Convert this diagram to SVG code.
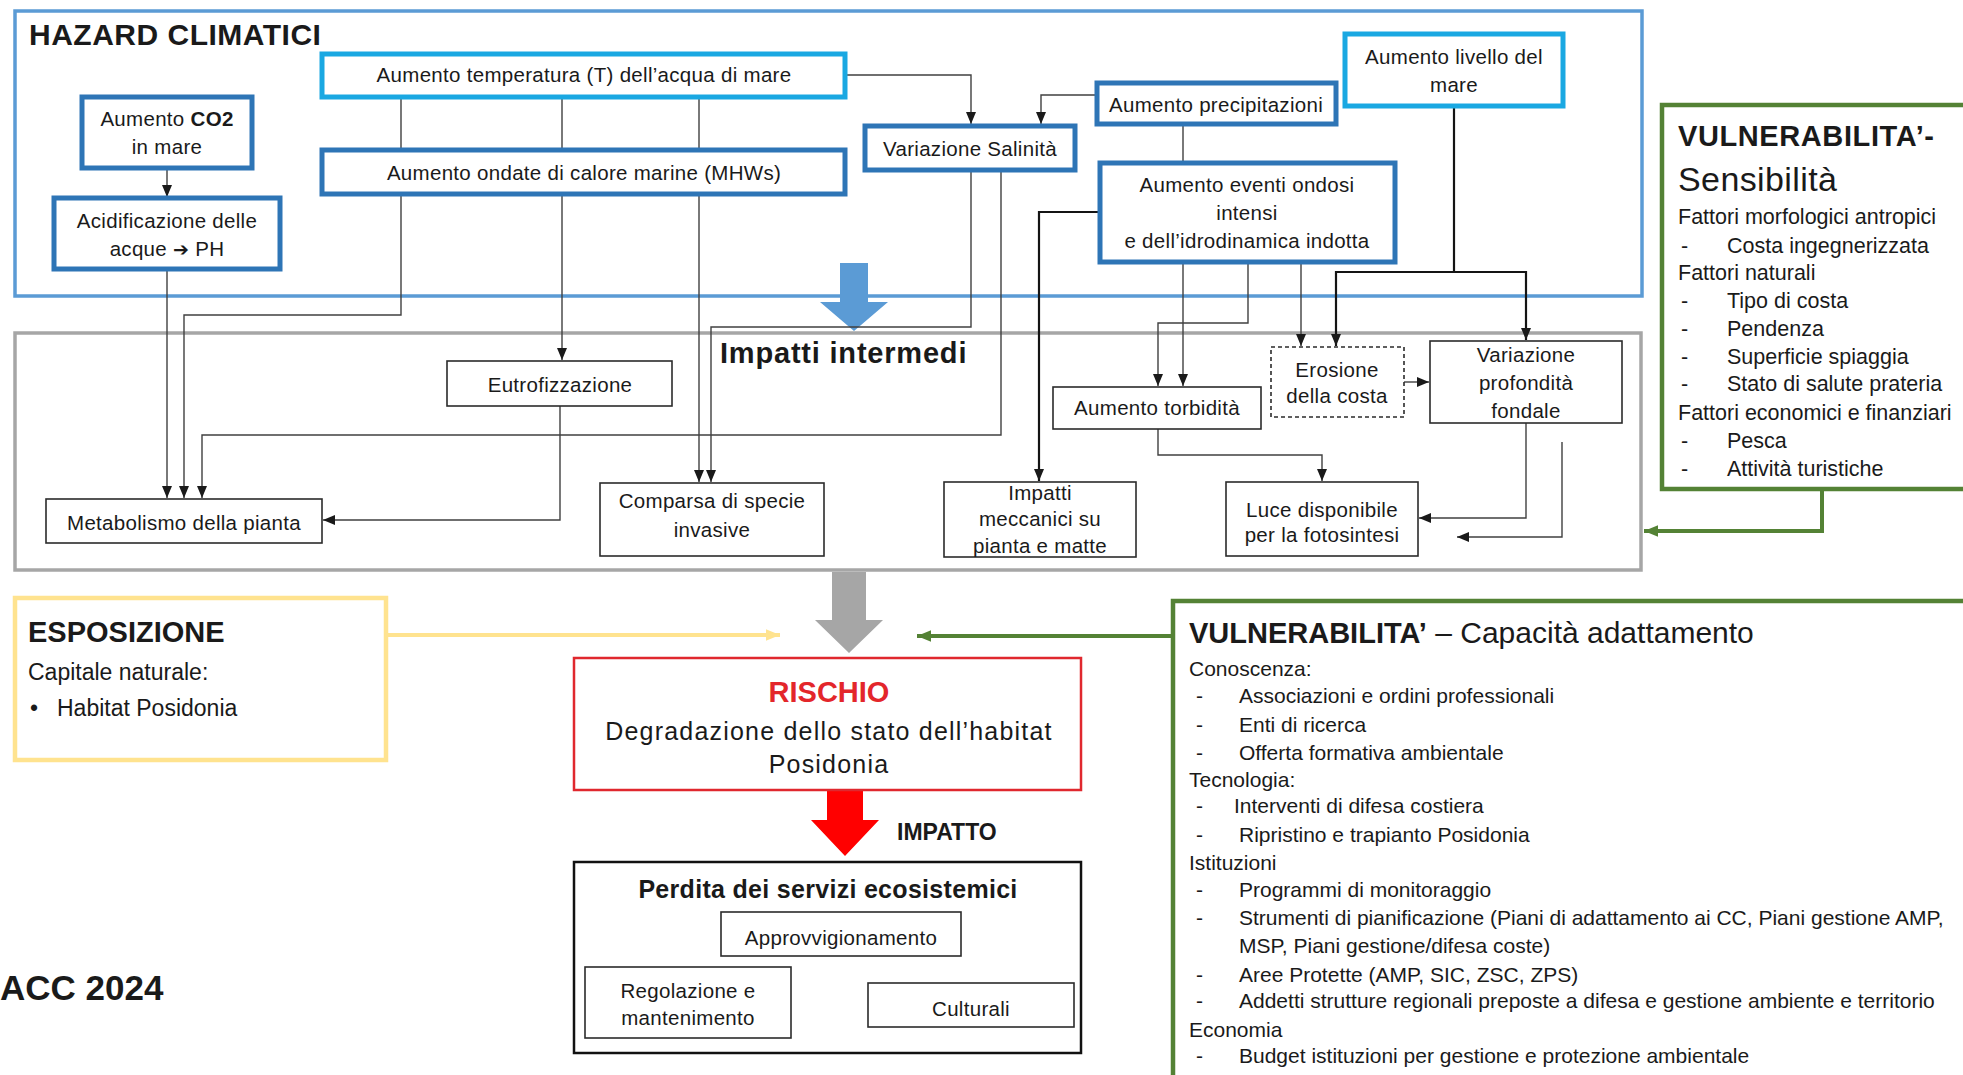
<svg xmlns="http://www.w3.org/2000/svg" width="1963" height="1075" viewBox="0 0 1963 1075">
<style>
text { font-family: "Liberation Sans", Arial, sans-serif; fill: #1a1a1a; }
.l { font-size: 20.5px; letter-spacing: .3px; text-anchor: middle; }
.b { font-weight: bold; }
.nb { fill: #fff; stroke: #2b2b2b; stroke-width: 1.6; }
.hd { fill: #fff; stroke: #2E75B6; stroke-width: 5; }
.hc { fill: #fff; stroke: #1AA8E2; stroke-width: 5; }
.w { fill: none; stroke: #404040; stroke-width: 1.4; marker-end: url(#ah); }
.wb { stroke: #141414; stroke-width: 2.2; }
.lst { font-size: 21px; }
.sl { font-size: 21.5px; }
</style>
<defs>
  <marker id="ah" viewBox="0 0 12 10" markerWidth="12" markerHeight="10" refX="12" refY="5" orient="auto" markerUnits="userSpaceOnUse">
    <path d="M0,0 L12,5 L0,10 z" fill="#1a1a1a"/>
  </marker>
  <marker id="ahg" viewBox="0 0 12 10" markerWidth="14" markerHeight="12" refX="12" refY="5" orient="auto" markerUnits="userSpaceOnUse">
    <path d="M0,0 L12,5 L0,10 z" fill="#548235"/>
  </marker>
  <marker id="ahy" viewBox="0 0 12 10" markerWidth="14" markerHeight="12" refX="12" refY="5" orient="auto" markerUnits="userSpaceOnUse">
    <path d="M0,0 L12,5 L0,10 z" fill="#FFE38F"/>
  </marker>
</defs>

<rect x="0" y="0" width="1963" height="1075" fill="#fff"/>

<!-- section frames -->
<g id="hazard-frame">
  <rect x="15" y="11" width="1627" height="285" fill="none" stroke="#5B9BD5" stroke-width="3.5"/>
  <text x="29" y="45" class="b" font-size="30" letter-spacing="0.5">HAZARD CLIMATICI</text>
</g>
<g id="impatti-frame">
  <rect x="15" y="333" width="1626" height="237" fill="none" stroke="#A6A6A6" stroke-width="3.5"/>
  <text x="720" y="363" class="b" font-size="29" letter-spacing="0.8">Impatti intermedi</text>
</g>

<!-- block arrows between sections -->
<g id="block-arrows">
  <polygon points="840,263 868,263 868,302 888,302 854,331 820,302 840,302" fill="#5B9BD5"/>
  <polygon points="832,572 866,572 866,620 883,620 849,653 815,620 832,620" fill="#A6A6A6"/>
  <polygon points="827,790 863,790 863,820 879,820 845,856 811,820 827,820" fill="#FF0000"/>
</g>

<!-- connectors -->
<g id="connectors">
  <path class="w" d="M167,168 V197"/>
  <path class="w" d="M167,269 V498"/>
  <path class="w" d="M401,97 V315 H184 V498"/>
  <path class="w" d="M562,97 V360"/>
  <path class="w" d="M699,97 V482"/>
  <path class="w" d="M845,75 H971 V124"/>
  <path class="w" d="M1097,95 H1041 V124"/>
  <path class="w" d="M971,170 V327 H711 V482"/>
  <path class="w" d="M1001,170 V435 H202 V498"/>
  <path class="w" d="M560,406 V520 H323"/>
  <path class="w wb" d="M1100,212 H1039 V481"/>
  <path class="w" d="M1183,124 V386"/>
  <path class="w" d="M1248,262 V323 H1158 V386"/>
  <path class="w" d="M1301,262 V346"/>
  <path class="w wb" d="M1454,106 V272 H1336 V346"/>
  <path class="w wb" d="M1454,272 H1526 V340"/>
  <path class="w" d="M1404,382 H1429"/>
  <path class="w" d="M1158,429 V455 H1322 V481"/>
  <path class="w" d="M1526,423 V518 H1419"/>
  <path class="w" d="M1562,442 V537 H1457"/>
  <path d="M1822,489 V531 H1644" fill="none" stroke="#548235" stroke-width="4" marker-end="url(#ahg)"/>
  <path d="M388,635 H780" fill="none" stroke="#FFE38F" stroke-width="4" marker-end="url(#ahy)"/>
  <path d="M1173,636 H917" fill="none" stroke="#548235" stroke-width="4" marker-end="url(#ahg)"/>
</g>

<!-- climate hazards -->
<g id="n-temperatura">
  <rect class="hc" x="322" y="54" width="523" height="43"/>
  <text class="l" x="584" y="82">Aumento temperatura (T) dell’acqua di mare</text>
</g>
<g id="n-co2">
  <rect class="hd" x="82" y="97" width="170" height="71" stroke-width="6"/>
  <text class="l" x="167" y="126">Aumento <tspan class="b">CO2</tspan></text>
  <text class="l" x="167" y="154">in mare</text>
</g>
<g id="n-acidificazione">
  <rect class="hd" x="54" y="198" width="226" height="71" stroke-width="6"/>
  <text class="l" x="167" y="228">Acidificazione delle</text>
  <text class="l" x="167" y="256">acque <tspan font-family="DejaVu Sans, sans-serif" font-weight="bold" font-size="19">➔</tspan> PH</text>
</g>
<g id="n-mhw">
  <rect class="hd" x="322" y="150" width="523" height="44"/>
  <text class="l" x="584" y="180">Aumento ondate di calore marine (MHWs)</text>
</g>
<g id="n-salinita">
  <rect class="hd" x="865" y="126" width="210" height="44"/>
  <text class="l" x="970" y="156">Variazione Salinità</text>
</g>
<g id="n-precipitazioni">
  <rect class="hd" x="1097" y="83" width="239" height="41"/>
  <text class="l" x="1216" y="112">Aumento precipitazioni</text>
</g>
<g id="n-livello">
  <rect class="hc" x="1345" y="34" width="218" height="72"/>
  <text class="l" x="1454" y="64">Aumento livello del</text>
  <text class="l" x="1454" y="92">mare</text>
</g>
<g id="n-eventi">
  <rect class="hd" x="1100" y="163" width="295" height="99"/>
  <text class="l" x="1247" y="192">Aumento eventi ondosi</text>
  <text class="l" x="1247" y="220">intensi</text>
  <text class="l" x="1247" y="248">e dell’idrodinamica indotta</text>
</g>

<!-- intermediate impacts -->
<g id="n-eutrofizzazione">
  <rect class="nb" x="447" y="361" width="225" height="45"/>
  <text class="l" x="560" y="392">Eutrofizzazione</text>
</g>
<g id="n-torbidita">
  <rect class="nb" x="1053" y="387" width="208" height="42"/>
  <text class="l" x="1157" y="415">Aumento torbidità</text>
</g>
<g id="n-erosione">
  <rect class="nb" x="1271" y="347" width="133" height="70" stroke-dasharray="4 3"/>
  <text class="l" x="1337" y="377">Erosione</text>
  <text class="l" x="1337" y="403">della costa</text>
</g>
<g id="n-profondita">
  <rect class="nb" x="1430" y="341" width="192" height="82"/>
  <text class="l" x="1526" y="362">Variazione</text>
  <text class="l" x="1526" y="390">profondità</text>
  <text class="l" x="1526" y="418">fondale</text>
</g>
<g id="n-metabolismo">
  <rect class="nb" x="46" y="499" width="276" height="44"/>
  <text class="l" x="184" y="530">Metabolismo della pianta</text>
</g>
<g id="n-comparsa">
  <rect class="nb" x="600" y="483" width="224" height="73"/>
  <text class="l" x="712" y="508">Comparsa di specie</text>
  <text class="l" x="712" y="537">invasive</text>
</g>
<g id="n-meccanici">
  <rect class="nb" x="944" y="482" width="192" height="75"/>
  <text class="l" x="1040" y="500">Impatti</text>
  <text class="l" x="1040" y="526">meccanici su</text>
  <text class="l" x="1040" y="553">pianta e matte</text>
</g>
<g id="n-luce">
  <rect class="nb" x="1226" y="482" width="192" height="74"/>
  <text class="l" x="1322" y="517">Luce disponibile</text>
  <text class="l" x="1322" y="542">per la fotosintesi</text>
</g>

<!-- vulnerability: sensitivity -->
<g id="n-sensibilita">
  <rect x="1662" y="105" width="320" height="384" fill="none" stroke="#548235" stroke-width="4.5"/>
  <text x="1678" y="146" class="b" font-size="29" letter-spacing="0.6">VULNERABILITA’-</text>
  <text x="1678" y="191" font-size="34" letter-spacing="0.4">Sensibilità</text>
  <text class="sl" x="1678" y="224">Fattori morfologici antropici</text>
  <text class="sl" x="1681" y="253">-</text><text class="sl" x="1727" y="253">Costa ingegnerizzata</text>
  <text class="sl" x="1678" y="280">Fattori naturali</text>
  <text class="sl" x="1681" y="308">-</text><text class="sl" x="1727" y="308">Tipo di costa</text>
  <text class="sl" x="1681" y="336">-</text><text class="sl" x="1727" y="336">Pendenza</text>
  <text class="sl" x="1681" y="364">-</text><text class="sl" x="1727" y="364">Superficie spiaggia</text>
  <text class="sl" x="1681" y="391">-</text><text class="sl" x="1727" y="391">Stato di salute prateria</text>
  <text class="sl" x="1678" y="420">Fattori economici e finanziari</text>
  <text class="sl" x="1681" y="448">-</text><text class="sl" x="1727" y="448">Pesca</text>
  <text class="sl" x="1681" y="476">-</text><text class="sl" x="1727" y="476">Attività turistiche</text>
</g>

<!-- exposure -->
<g id="n-esposizione">
  <rect x="15" y="598" width="371" height="162" fill="none" stroke="#FFE38F" stroke-width="4.5"/>
  <text x="28" y="642" class="b" font-size="29">ESPOSIZIONE</text>
  <text x="28" y="680" font-size="23">Capitale naturale:</text>
  <text x="30" y="716" font-size="23">•</text>
  <text x="57" y="716" font-size="23">Habitat Posidonia</text>
</g>

<!-- risk -->
<g id="n-rischio">
  <rect x="574" y="658" width="507" height="132" fill="#fff" stroke="#E0282E" stroke-width="2.5"/>
  <text x="829" y="702" class="b" font-size="29" text-anchor="middle" style="fill:#E3262B">RISCHIO</text>
  <text x="829" y="740" font-size="25" letter-spacing="1.2" text-anchor="middle">Degradazione dello stato dell’habitat</text>
  <text x="829" y="773" font-size="25" letter-spacing="1.2" text-anchor="middle">Posidonia</text>
</g>
<text x="897" y="840" class="b" font-size="23">IMPATTO</text>

<!-- loss of ecosystem services -->
<g id="n-perdita">
  <rect x="574" y="862" width="507" height="191" fill="#fff" stroke="#111" stroke-width="2.5"/>
  <text x="828" y="898" class="b" font-size="25" letter-spacing="0.3" text-anchor="middle">Perdita dei servizi ecosistemici</text>
</g>
<g id="n-approvvigionamento">
  <rect class="nb" x="721" y="912" width="240" height="44"/>
  <text class="l" x="841" y="945">Approvvigionamento</text>
</g>
<g id="n-regolazione">
  <rect class="nb" x="585" y="967" width="206" height="71"/>
  <text class="l" x="688" y="998">Regolazione e</text>
  <text class="l" x="688" y="1025">mantenimento</text>
</g>
<g id="n-culturali">
  <rect class="nb" x="868" y="983" width="206" height="44"/>
  <text class="l" x="971" y="1016">Culturali</text>
</g>

<text x="0" y="1000" class="b" font-size="35">ACC 2024</text>

<!-- vulnerability: adaptive capacity -->
<g id="n-capacita">
  <rect x="1173" y="601" width="810" height="490" fill="none" stroke="#548235" stroke-width="4.5"/>
  <text x="1189" y="643" font-size="30"><tspan class="b" font-size="29">VULNERABILITA’</tspan> – Capacità adattamento</text>
  <text class="lst" x="1189" y="676">Conoscenza:</text>
  <text class="lst" x="1196" y="703">-</text><text class="lst" x="1239" y="703">Associazioni e ordini professionali</text>
  <text class="lst" x="1196" y="732">-</text><text class="lst" x="1239" y="732">Enti di ricerca</text>
  <text class="lst" x="1196" y="760">-</text><text class="lst" x="1239" y="760">Offerta formativa ambientale</text>
  <text class="lst" x="1189" y="787">Tecnologia:</text>
  <text class="lst" x="1196" y="813">-</text><text class="lst" x="1234" y="813">Interventi di difesa costiera</text>
  <text class="lst" x="1196" y="842">-</text><text class="lst" x="1239" y="842">Ripristino e trapianto Posidonia</text>
  <text class="lst" x="1189" y="870">Istituzioni</text>
  <text class="lst" x="1196" y="897">-</text><text class="lst" x="1239" y="897">Programmi di monitoraggio</text>
  <text class="lst" x="1196" y="925">-</text><text class="lst" x="1239" y="925">Strumenti di pianificazione (Piani di adattamento ai CC, Piani gestione AMP,</text>
  <text class="lst" x="1239" y="953">MSP, Piani gestione/difesa coste)</text>
  <text class="lst" x="1196" y="982">-</text><text class="lst" x="1239" y="982">Aree Protette (AMP, SIC, ZSC, ZPS)</text>
  <text class="lst" x="1196" y="1008">-</text><text class="lst" x="1239" y="1008">Addetti strutture regionali preposte a difesa e gestione ambiente e territorio</text>
  <text class="lst" x="1189" y="1037">Economia</text>
  <text class="lst" x="1196" y="1063">-</text><text class="lst" x="1239" y="1063">Budget istituzioni per gestione e protezione ambientale</text>
</g>
</svg>
